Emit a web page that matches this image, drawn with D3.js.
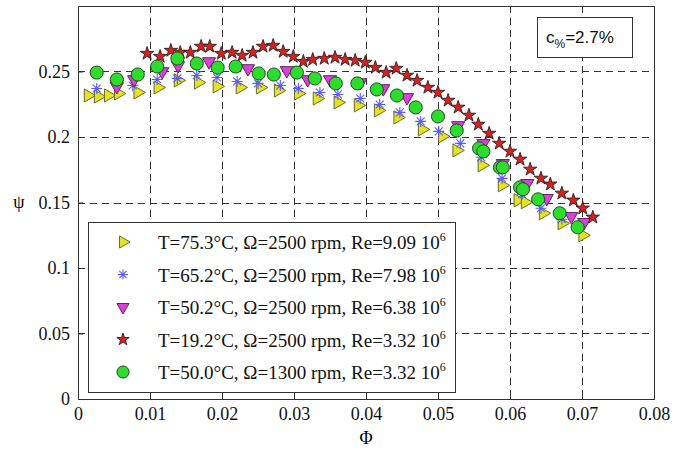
<!DOCTYPE html>
<html>
<head>
<meta charset="utf-8">
<script src="https://cdn.jsdelivr.net/npm/d3@7"></script>
<style>
  body { margin: 0; background: #fff; }
  svg { display: block; }
  .tick text { font-family: "Liberation Serif", "Times New Roman", serif; font-size: 18px; fill: #111; }
</style>
</head>
<body>
<svg id="chart" width="674" height="452"></svg>
<script>
// values (phi, psi)
var phiT753 = [0.0014,0.0028,0.0042,0.0056,0.0083,0.0111,0.0139,0.0167,0.0193,0.0225,0.0253,0.0278,0.0306,0.0332,0.0361,0.0389,0.0417,0.0444,0.0478,0.0506,0.0526,0.0561,0.0589,0.0611,0.0621,0.0646,0.0672,0.0701];
var psiT753 = [0.2317,0.2309,0.2317,0.2332,0.2340,0.2378,0.2432,0.2416,0.2386,0.2378,0.2378,0.2355,0.2332,0.2294,0.2264,0.2241,0.2203,0.2149,0.2058,0.2005,0.1898,0.1784,0.1631,0.1517,0.1502,0.1418,0.1341,0.1250];

var phiT652 = [0.0026,0.0076,0.0110,0.0138,0.0165,0.0193,0.0221,0.0250,0.0281,0.0306,0.0336,0.0361,0.0392,0.0419,0.0447,0.0476,0.0501,0.0531,0.0560,0.0589,0.0617,0.0643,0.0672];
var psiT652 = [0.2370,0.2393,0.2439,0.2447,0.2470,0.2454,0.2424,0.2409,0.2393,0.2370,0.2340,0.2325,0.2294,0.2248,0.2188,0.2119,0.2043,0.1951,0.1845,0.1684,0.1563,0.1456,0.1372];

var phiT502 = [0.0054,0.0078,0.0117,0.0139,0.0182,0.0236,0.0290,0.0319,0.0350,0.0392,0.0424,0.0457,0.0528,0.0563,0.0590,0.0624,0.0651,0.0685,0.0703];
var psiT502 = [0.2386,0.2439,0.2500,0.2546,0.2576,0.2523,0.2508,0.2439,0.2439,0.2416,0.2370,0.2302,0.2088,0.1951,0.1799,0.1646,0.1532,0.1395,0.1349];

var phiT192 = [0.0096,0.0114,0.0129,0.0142,0.0156,0.0171,0.0183,0.0199,0.0214,0.0228,0.0243,0.0257,0.0271,0.0285,0.0299,0.0313,0.0326,0.0342,0.0357,0.0371,0.0385,0.0399,0.0413,0.0428,0.0442,0.0457,0.0471,0.0486,0.0500,0.0514,0.0528,0.0543,0.0556,0.0571,0.0585,0.0600,0.0614,0.0628,0.0643,0.0656,0.0672,0.0688,0.0701,0.0715];
var psiT192 = [0.2637,0.2614,0.2660,0.2645,0.2645,0.2691,0.2691,0.2637,0.2645,0.2622,0.2645,0.2691,0.2698,0.2652,0.2614,0.2576,0.2591,0.2599,0.2607,0.2591,0.2584,0.2569,0.2530,0.2492,0.2523,0.2470,0.2431,0.2378,0.2340,0.2279,0.2226,0.2165,0.2096,0.2027,0.1951,0.1890,0.1829,0.1753,0.1684,0.1639,0.1570,0.1517,0.1456,0.1387];

var phiT500 = [0.0026,0.0054,0.0083,0.0110,0.0138,0.0165,0.0194,0.0219,0.0251,0.0272,0.0304,0.0329,0.0358,0.0388,0.0415,0.0443,0.0469,0.0500,0.0526,0.0557,0.0563,0.0586,0.0590,0.0614,0.0618,0.0639,0.0669,0.0694];
var psiT500 = [0.2492,0.2439,0.2477,0.2538,0.2599,0.2561,0.2530,0.2538,0.2485,0.2477,0.2492,0.2447,0.2409,0.2409,0.2363,0.2317,0.2226,0.2157,0.2050,0.1913,0.1890,0.1768,0.1768,0.1616,0.1601,0.1524,0.1418,0.1311];

var legendLabels = [
  ["T=75.3°C, Ω=2500 rpm, Re=9.09 10", "6"],
  ["T=65.2°C, Ω=2500 rpm, Re=7.98 10", "6"],
  ["T=50.2°C, Ω=2500 rpm, Re=6.38 10", "6"],
  ["T=19.2°C, Ω=2500 rpm, Re=3.32 10", "6"],
  ["T=50.0°C, Ω=1300 rpm, Re=3.32 10", "6"]
];

var xTicks = [0,0.01,0.02,0.03,0.04,0.05,0.06,0.07,0.08];
var xTickLabels = ["0","0.01","0.02","0.03","0.04","0.05","0.06","0.07","0.08"];
var yTicks = [0,0.05,0.1,0.15,0.2,0.25];
var yTickLabels = ["0","0.05","0.1","0.15","0.2","0.25"];

var plotLeft = 78, plotRight = 654, plotTop = 6, plotBottom = 399;

var svg = d3.select("#chart");
var x = d3.scaleLinear().domain([0, 0.08]).range([plotLeft, plotRight]);
var y = d3.scaleLinear().domain([0, 0.3]).range([plotBottom, plotTop]);

function crisp(v) { return Math.round(v) + 0.5; }

// grid
var grid = svg.append("g");
xTicks.slice(1, -1).forEach(function(t){
  grid.append("line").attr("x1", crisp(x(t))).attr("x2", crisp(x(t))).attr("y1", plotTop).attr("y2", plotBottom)
    .attr("stroke", "#333").attr("stroke-dasharray", "7,5");
});
yTicks.slice(1).forEach(function(t){
  grid.append("line").attr("x1", plotLeft).attr("x2", plotRight).attr("y1", crisp(y(t))).attr("y2", crisp(y(t)))
    .attr("stroke", "#333").attr("stroke-dasharray", "7,5");
});

// axes
var xAxis = d3.axisBottom(x).tickValues(xTicks).tickSizeInner(-5).tickSizeOuter(0).tickPadding(8)
  .tickFormat(function(d, i){ return xTickLabels[i]; });
var yAxis = d3.axisLeft(y).tickValues(yTicks).tickSizeInner(-5).tickSizeOuter(0).tickPadding(8)
  .tickFormat(function(d, i){ return yTickLabels[i]; });

svg.append("g").attr("transform", "translate(0," + plotBottom + ")").call(xAxis)
  .call(function(g){ g.select(".domain").remove(); g.selectAll("line").attr("stroke", "#333"); });
svg.append("g").attr("transform", "translate(" + plotLeft + ",0)").call(yAxis)
  .call(function(g){ g.select(".domain").remove(); g.selectAll("line").attr("stroke", "#333"); });

svg.append("rect").attr("x", plotLeft + 0.5).attr("y", plotTop + 0.5)
  .attr("width", plotRight - plotLeft).attr("height", plotBottom - plotTop)
  .attr("fill", "none").attr("stroke", "#333").attr("stroke-width", 1);

svg.append("text").attr("x", (plotLeft + plotRight) / 2).attr("y", 444).attr("text-anchor", "middle")
  .style("font-family", "Liberation Serif, serif").style("font-size", "18px").text("Φ");
svg.append("text").attr("x", 19).attr("y", 208).attr("text-anchor", "middle")
  .style("font-family", "Liberation Serif, serif").style("font-size", "18px").text("ψ");

// markers
var asterisk = {
  draw: function(context, size) {
    var r = Math.sqrt(size) / 2, d = r * 0.72;
    context.moveTo(-r, 0); context.lineTo(r, 0);
    context.moveTo(0, -r); context.lineTo(0, r);
    context.moveTo(-d, -d); context.lineTo(d, d);
    context.moveTo(-d, d); context.lineTo(d, -d);
  }
};

var series = [
  {phi: phiT753, psi: psiT753, type: d3.symbolTriangle, size: 75, rot: 90, fill: "#e4e41e", stroke: "#6b6b30", sw: 1},
  {phi: phiT652, psi: psiT652, type: asterisk, size: 120, rot: 0, fill: "none", stroke: "#5a5aff", sw: 1.1},
  {phi: phiT502, psi: psiT502, type: d3.symbolTriangle, size: 75, rot: 180, fill: "#dc3fdc", stroke: "#5a2a5a", sw: 1},
  {phi: phiT192, psi: psiT192, type: d3.symbolStar, size: 56, rot: 0, fill: "#d42222", stroke: "#3a1a1a", sw: 0.9},
  {phi: phiT500, psi: psiT500, type: d3.symbolCircle, size: 135, rot: 0, fill: "#2edc2e", stroke: "#1f4a1f", sw: 1}
];

series.forEach(function(s){
  var path = d3.symbol().type(s.type).size(s.size)();
  svg.append("g").selectAll("path").data(s.phi).enter().append("path")
    .attr("d", path)
    .attr("transform", function(d, i){ return "translate(" + x(d) + "," + y(s.psi[i]) + ") rotate(" + s.rot + ")"; })
    .attr("fill", s.fill).attr("stroke", s.stroke).attr("stroke-width", s.sw);
});

// legend
var lg = svg.append("g");
lg.append("rect").attr("x", 88.5).attr("y", 222.5).attr("width", 367).attr("height", 170)
  .attr("fill", "#fff").attr("stroke", "#333");
series.forEach(function(s, i){
  var cy = 242 + i * 32.5;
  lg.append("path").attr("d", d3.symbol().type(s.type).size(s.size * 0.85)())
    .attr("transform", "translate(123," + cy + ") rotate(" + s.rot + ")")
    .attr("fill", s.fill).attr("stroke", s.stroke).attr("stroke-width", s.sw);
  var t = lg.append("text").attr("x", 158).attr("y", cy + 7)
    .style("font-family", "Liberation Serif, serif").style("font-size", "19px").attr("fill", "#111");
  t.append("tspan").text(legendLabels[i][0]);
  t.append("tspan").attr("dy", -8).style("font-size", "12px").text(legendLabels[i][1]);
});

// annotation box
var ann = svg.append("g");
ann.append("rect").attr("x", 537.5).attr("y", 17.5).attr("width", 95).attr("height", 40)
  .attr("fill", "#fff").attr("stroke", "#333");
var at = ann.append("text").attr("x", 546).attr("y", 43)
  .style("font-family", "Liberation Sans, Arial, sans-serif").style("font-size", "17px").attr("fill", "#111");
at.append("tspan").text("c");
at.append("tspan").attr("dy", 5).style("font-size", "12px").text("%");
at.append("tspan").attr("dy", -5).text("=2.7%");
</script>
</body>
</html>
